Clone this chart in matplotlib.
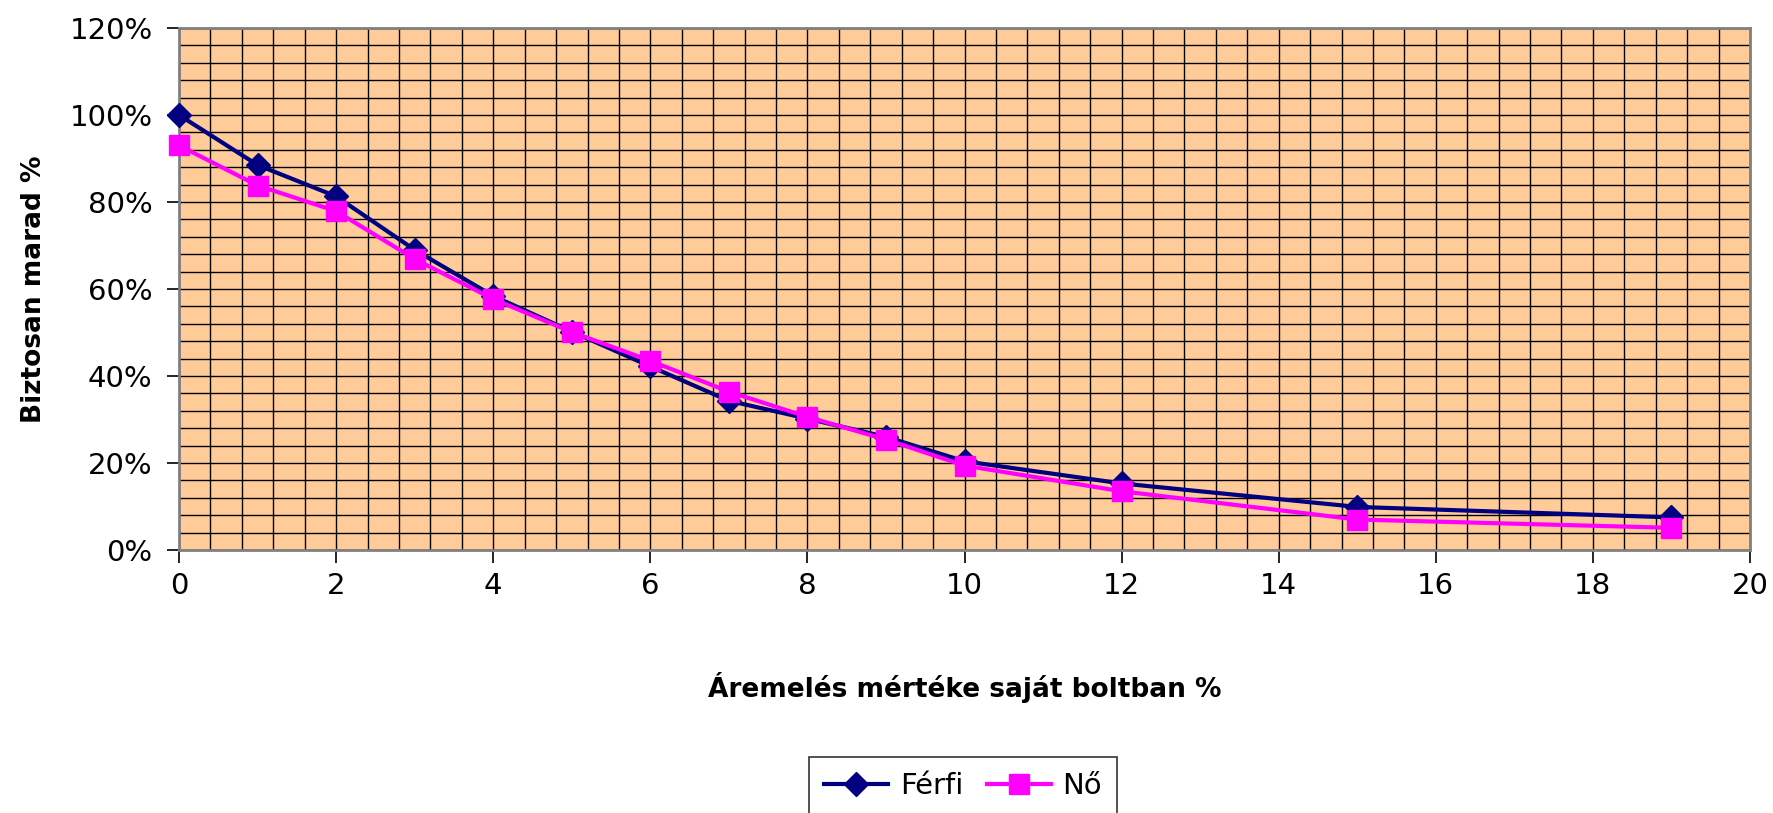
import matplotlib.pyplot as plt
from matplotlib.ticker import MultipleLocator, FuncFormatter

# áremelés mértéke (%)
x_vals = [0, 1, 2, 3, 4, 5, 6, 7, 8, 9, 10, 12, 15, 19]
ferfi = [100, 88.5, 81.3, 69, 58.4, 50.2, 42.2, 34.3, 30.2, 26, 20.4, 15.3, 9.9, 7.5]
no = [93, 83.8, 77.9, 66.9, 57.7, 50.1, 43.5, 36.4, 30.6, 25.4, 19.4, 13.5, 7, 5.1]

plt.rcParams['font.family'] = ['DejaVu Sans']

fig = plt.figure(figsize=(17.73, 8.13), dpi=100)
ax = fig.add_axes([0.101, 0.3235, 0.886, 0.642])
ax.set_facecolor('#FFCC99')

ax.plot(x_vals, ferfi, color='#000080', lw=3, marker='D', ms=12,
        label='Férfi', zorder=4, clip_on=False)
ax.plot(x_vals, no, color='#FF00FF', lw=3, marker='s', ms=14,
        label='Nő', zorder=5, clip_on=False)

ax.set_xlim(0, 20)
ax.set_ylim(0, 120)
ax.xaxis.set_major_locator(MultipleLocator(2))
ax.xaxis.set_minor_locator(MultipleLocator(0.4))
ax.yaxis.set_major_locator(MultipleLocator(20))
ax.yaxis.set_minor_locator(MultipleLocator(4))
ax.yaxis.set_major_formatter(FuncFormatter(lambda v, p: f'{v:.0f}%'))

ax.grid(True, which='both', color='black', lw=1, zorder=1)
ax.set_axisbelow(True)
ax.tick_params(which='major', direction='out', length=9, width=1.2,
               labelsize=21, pad=10, colors='black')
ax.tick_params(axis='x', which='major', pad=7)
ax.tick_params(which='minor', length=0)

for s in ax.spines.values():
    s.set_color('#808080')
    s.set_linewidth(2)

ax.set_xlabel('Áremelés mértéke saját boltban %', fontsize=19,
              fontweight='bold', labelpad=52)
ax.set_ylabel('Biztosan marad %', fontsize=19, fontweight='bold', labelpad=16)

leg = fig.legend(loc='center', bbox_to_anchor=(963 / 1773, 1 - 786 / 813),
                 ncol=2, fontsize=21, frameon=True, fancybox=False,
                 handlelength=2.2, columnspacing=0.8, handletextpad=0.4,
                 borderpad=0.5)
leg.get_frame().set_edgecolor('black')
leg.get_frame().set_linewidth(1.2)

fig.savefig('out.png', dpi=100)
